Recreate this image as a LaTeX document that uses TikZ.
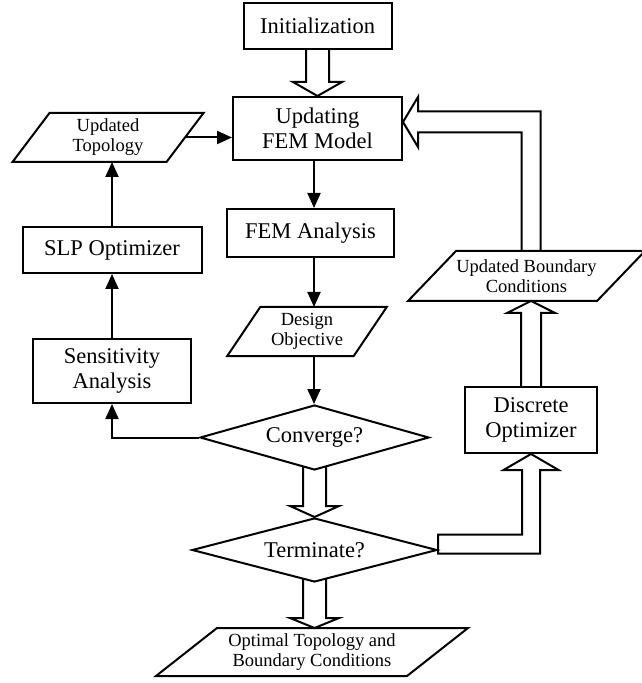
\documentclass[tikz,border=0pt]{standalone}
\usepackage{fontspec}
\setmainfont{Liberation Serif}
\usetikzlibrary{shapes.geometric,arrows.meta,backgrounds}
% slanted frame round a data node: #1 node, #2 half slant
\newcommand{\dataframe}[2]{\draw ([shift={(#2,0)}]#1.north west) -- ([shift={(#2,0)}]#1.north east) -- ([shift={(-#2,0)}]#1.south east) -- ([shift={(-#2,0)}]#1.south west) -- cycle;}
% hollow arrow: #1 start, #2 tip, #3 head offset, #4 half shaft, #5 half head
\newcommand{\blockarrow}[5]{\draw[hollow] ([shift={(-#4,0)}]#1) -- ([shift={(-#4,#3)}]#2) -- ([shift={(-#5,#3)}]#2) -- (#2) -- ([shift={(#5,#3)}]#2) -- ([shift={(#4,#3)}]#2) -- ([shift={(#4,0)}]#1);}
\begin{document}
\begin{tikzpicture}[x=0.5pt, y=-0.5pt, line width=1pt, >={Triangle[length=7.5pt,width=6.5pt]},
	box/.style={draw, fill=white, rectangle, inner sep=0pt, align=center, font=\fontsize{11.25}{12.5}\selectfont},
	test/.style={draw, fill=white, diamond, aspect=3.5, inner sep=0pt, font=\fontsize{11.25}{12.5}\selectfont},
	data/.style={inner sep=0pt, outer sep=0pt, align=center, font=\fontsize{9.25}{10}\selectfont},
	hollow/.style={draw, line width=1pt, line join=miter}]
	\useasboundingbox (0,0) rectangle (641,683);
	% main column
	\node[box, minimum width=74pt, minimum height=23pt] (init) at (317.5,26) {Initialization};
	\node[box, minimum width=84.5pt, minimum height=31.5pt] (update) at (317.5,128.5) {Updating\\FEM Model};
	\node[box, minimum width=83.5pt, minimum height=24pt] (fem) at (310.5,233) {FEM Analysis};
	\node[data, minimum width=63.25pt, minimum height=24.5pt] (design) at (307,331.5) {Design\\Objective};
	\node[test, minimum width=114.5pt, minimum height=32.5pt] (converge) at (314.5,437.5) {Converge?};
	\node[test, minimum width=122.5pt, minimum height=32pt] (terminate) at (314.5,550) {Terminate?};
	\node[data, minimum width=125.5pt, minimum height=24pt] (optimal) at (312,652) {Optimal Topology and\\Boundary Conditions};
	% left loop
	\node[data, minimum width=77pt, minimum height=24.5pt] (topo) at (108,137.5) {Updated\\Topology};
	\node[box, minimum width=89.5pt, minimum height=23pt] (slp) at (112,250) {SLP Optimizer};
	\node[box, minimum width=79pt, minimum height=32pt] (sens) at (112,371) {Sensitivity\\Analysis};
	% right loop
	\node[box, minimum width=66pt, minimum height=33pt] (discrete) at (531,420) {Discrete\\Optimizer};
	\node[data, minimum width=94.5pt, minimum height=25pt] (ubc) at (526.5,276) {Updated Boundary\\Conditions};
	\dataframe{design}{16.5}
	\dataframe{optimal}{30.5}
	\dataframe{topo}{18.5}
	\dataframe{ubc}{24}
	% thin connectors
	\coordinate (mid) at (314,0);
	\draw[->] (update.south -| mid) -- (fem.north -| mid);
	\draw[->] (fem.south -| mid) -- (design.north -| mid);
	\draw[->] (design.south -| mid) -- (converge.north -| mid);
	\draw[->] (converge.west) -| (sens.south);
	\draw[->] (sens.north) -- (slp.south);
	\draw[->] (slp.north) -- (topo.south -| slp.north);
	\draw[->] (topo.east) -- (update.west |- topo.east);
	% hollow connectors
	\coordinate (otip) at (optimal.north -| terminate.south);
	\coordinate (dtip) at (ubc.south -| discrete.north);
	\coordinate (ubase) at (ubc.north -| discrete.north);
	\coordinate (utip) at ([shift={(0,-6.5)}]update.east);
	\begin{scope}[on background layer]
		\blockarrow{init.center}{update.north}{-14}{11.5}{24.5}
		\blockarrow{converge.center}{terminate.north}{-11}{11.5}{24.5}
		\blockarrow{terminate.center}{otip}{-10}{11.5}{24.5}
		\blockarrow{discrete.center}{dtip}{12}{10}{24}
		\draw[hollow] ([shift={(0,-15.5)}]terminate.east) -| ([shift={(-9,16)}]discrete.south) -- ([shift={(-27.5,16)}]discrete.south) -- (discrete.south) -- ([shift={(27.5,16)}]discrete.south) -- ([shift={(9,16)}]discrete.south) |- ([shift={(0,3.5)}]terminate.east) -- cycle;
		\draw[hollow] ([shift={(-9.5,0)}]ubase) |- ([shift={(15,10.5)}]utip) -- ([shift={(15,25)}]utip) -- (utip) -- ([shift={(15,-25)}]utip) -- ([shift={(15,-10.5)}]utip) -| ([shift={(9.5,0)}]ubase);
	\end{scope}
\end{tikzpicture}
\end{document}
